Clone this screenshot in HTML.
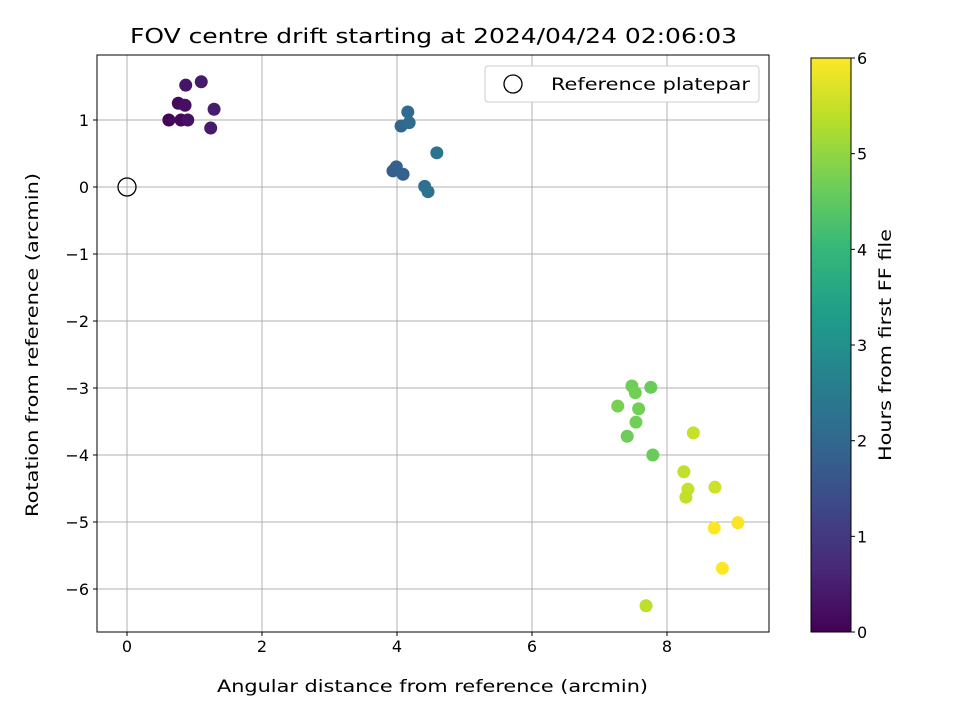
<!DOCTYPE html>
<html><head><meta charset="utf-8"><style>
body{margin:0;background:#fff;font-family:"Liberation Sans","DejaVu Sans",sans-serif}
svg text{font-family:"DejaVu Sans","Liberation Sans",sans-serif;fill:#000}
</style></head><body>
<svg id="c" width="960" height="720" xmlns="http://www.w3.org/2000/svg"></svg>
<script>
const xVals=[0.62,0.76,0.86,0.80,0.90,0.87,1.10,1.29,1.24, 4.16,4.06,4.18,4.59,3.99,3.94,4.09,4.41,4.46, 7.48,7.76,7.53,7.27,7.58,7.54,7.41,7.79, 8.39,8.25,8.31,8.28,8.71,7.69, 8.70,9.05,8.82];
const yVals=[1.0,1.25,1.22,1.0,1.0,1.52,1.57,1.16,0.88, 1.12,0.91,0.96,0.51,0.30,0.24,0.19,0.01,-0.07, -2.97,-2.99,-3.07,-3.27,-3.31,-3.51,-3.72,-4.0, -3.67,-4.25,-4.51,-4.63,-4.48,-6.25, -5.09,-5.01,-5.69];
const hours=[0.05,0.15,0.25,0.1,0.3,0.35,0.45,0.5,0.45, 2.05,1.95,2.1,2.25,1.85,1.8,1.9,2.2,2.25, 4.65,4.6,4.7,4.75,4.7,4.7,4.65,4.6, 5.5,5.45,5.5,5.45,5.55,5.4, 6.0,5.95,6.0];
const xTicks=[0,2,4,6,8];
const yTicks=[1,0,-1,-2,-3,-4,-5,-6];
const cTicks=[0,1,2,3,4,5,6];
const L=97,R=769,T=55,B=632;
const xs=v=>127+v*67.5, ys=v=>187-v*67;
const cy=v=>632-v*(574/6);
const NS="http://www.w3.org/2000/svg";
const svg=document.getElementById('c');
function mk(t,a,txt){const e=document.createElementNS(NS,t);for(const k in a)e.setAttribute(k,a[k]);if(txt!=null)e.textContent=txt;svg.appendChild(e);return e;}
const stops=[[68,1,84],[72,40,120],[62,73,137],[49,104,142],[38,130,142],[31,158,137],[53,183,121],[110,206,88],[181,222,43],[253,231,37]];
function vir(t){t=Math.max(0,Math.min(1,t))*(stops.length-1);const i=Math.min(Math.floor(t),stops.length-2),f=t-i;const a=stops[i],b=stops[i+1];return `rgb(${a.map((v,k)=>Math.round(v+(b[k]-v)*f)).join(',')})`;}
xTicks.forEach(v=>{let e=mk('line',{x1:xs(v),x2:xs(v),y1:T,y2:B,stroke:'#b0b0b0','stroke-width':1});});
yTicks.forEach(v=>{let e=mk('line',{x1:L,x2:R,y1:ys(v),y2:ys(v),stroke:'#b0b0b0','stroke-width':1});});
xVals.forEach((x,i)=>{let e=mk('circle',{cx:xs(x),cy:ys(yVals[i]),r:6.5,fill:vir(hours[i]/6)});});
let ref=mk('circle',{cx:xs(0),cy:ys(0),r:9,fill:'none',stroke:'#000','stroke-width':1.3});


let fr=mk('rect',{x:L,y:T,width:R-L,height:B-T,fill:'none',stroke:'#000','stroke-width':1});


xTicks.forEach(v=>{mk('line',{x1:xs(v),x2:xs(v),y1:B,y2:B+4,stroke:'#000'});let t=mk('text',{x:xs(v),y:B+20,'text-anchor':'middle','font-size':16},String(v));});
yTicks.forEach(v=>{mk('line',{x1:L-4,x2:L,y1:ys(v),y2:ys(v),stroke:'#000'});let t=mk('text',{x:L-8,y:ys(v)+6,'text-anchor':'end','font-size':16},v<0?'\u2212'+(-v):String(v));});
const fit={lengthAdjust:'spacingAndGlyphs'};
let tt=mk('text',Object.assign({x:130,y:43,'font-size':20,textLength:607},fit),'FOV centre drift starting at 2024/04/24 02:06:03');

let xt=mk('text',Object.assign({x:217,y:692,'font-size':17,textLength:431},fit),'Angular distance from reference (arcmin)');

let yt=mk('text',Object.assign({x:0,y:0,'font-size':17,textLength:344,transform:'translate(38 517) rotate(-90)'},fit),'Rotation from reference (arcmin)');

let lg=mk('rect',{x:485,y:66,width:274,height:36,rx:3,fill:'#fff',stroke:'#ccc'});

mk('circle',{cx:513,cy:84,r:9,fill:'none',stroke:'#000','stroke-width':1.3});
let lt=mk('text',Object.assign({x:551,y:90,'font-size':17,textLength:199},fit),'Reference platepar');

const defs=mk('defs',{});
const g=document.createElementNS(NS,'linearGradient');g.setAttribute('id','vg');g.setAttribute('x1','0');g.setAttribute('y1','1');g.setAttribute('x2','0');g.setAttribute('y2','0');defs.appendChild(g);
stops.forEach((s,i)=>{const st=document.createElementNS(NS,'stop');st.setAttribute('offset',i/(stops.length-1));st.setAttribute('stop-color',`rgb(${s.join(',')})`);g.appendChild(st);});
let cb=mk('rect',{x:811,y:cy(6),width:40,height:cy(0)-cy(6),fill:'url(#vg)',stroke:'#000','stroke-width':1});

cTicks.forEach(v=>{mk('line',{x1:851,x2:855,y1:cy(v),y2:cy(v),stroke:'#000'});let t=mk('text',{x:857,y:cy(v)+6,'font-size':16},String(v));});
let ct=mk('text',Object.assign({x:0,y:0,'font-size':17,textLength:232,transform:'translate(891 461) rotate(-90)'},fit),'Hours from first FF file');

</script>
</body></html>
